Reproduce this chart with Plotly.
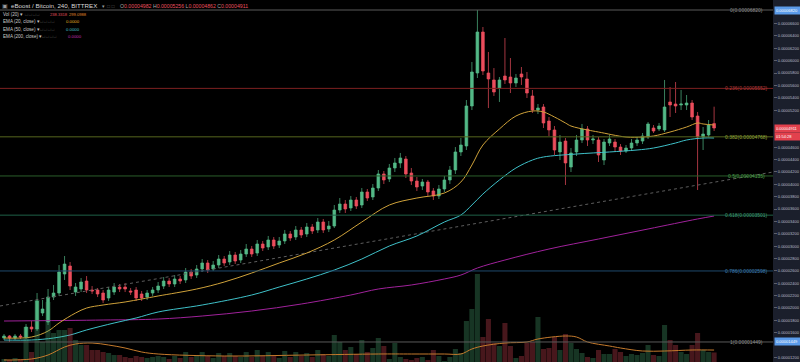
import plotly.graph_objects as go

SAT = 1e-8  # prices below are in satoshi (1e-8 BTC)

open_sat = [1513, 1546, 1513, 1546, 1529, 1691, 1659, 1918, 1772, 2176,
            2241, 2549, 2678, 2257, 2306, 2435, 2290, 2290, 2241, 2160,
            2257, 2338, 2338, 2274, 2290, 2225, 2176, 2241, 2290, 2354,
            2435, 2387, 2468, 2452, 2581, 2532, 2630, 2727, 2630, 2694,
            2791, 2743, 2856, 2775, 2872, 2953, 2888, 3034, 2986, 3099,
            3018, 3083, 3196, 3147, 3261, 3196, 3309, 3261, 3390, 3277,
            3325, 3584, 3681, 3617, 3746, 3665, 3875, 3795, 3940, 4167,
            4086, 4264, 4345, 4409, 4183, 4053, 3972, 4037, 3892, 3811,
            3924, 4070, 4231, 4523, 4620, 5267, 5801, 6464, 5801, 5688,
            5558, 5752, 5736, 5639, 5785, 5704, 5429, 5202, 5251, 5024,
            4879, 4523, 4700, 4280, 4523, 4717, 4895, 4717, 4717, 4393,
            4668, 4684, 4603, 4539, 4587, 4668, 4700, 4765, 4911, 4895,
            4879, 5332, 5299, 5283, 5283, 5315, 5105, 4765, 4798, 4982]
close_sat = [1546, 1513, 1546, 1529, 1691, 1659, 2112, 1982, 2176, 2241,
             2581, 2710, 2354, 2338, 2419, 2290, 2274, 2225, 2128, 2290,
             2338, 2306, 2306, 2257, 2160, 2160, 2241, 2290, 2354, 2435,
             2387, 2468, 2435, 2581, 2516, 2630, 2727, 2613, 2694, 2791,
             2727, 2856, 2759, 2872, 2953, 2872, 3034, 2969, 3099, 3002,
             3083, 3196, 3131, 3261, 3180, 3309, 3244, 3390, 3261, 3325,
             3584, 3681, 3600, 3746, 3649, 3875, 3778, 3940, 4167, 4070,
             4264, 4345, 4426, 4167, 4053, 3956, 4037, 3875, 3811, 3924,
             4070, 4231, 4523, 4636, 5267, 5817, 6464, 5833, 5704, 5493,
             5688, 5688, 5639, 5720, 5736, 5477, 5202, 5234, 4992, 4879,
             4555, 4684, 4345, 4507, 4717, 4895, 4717, 4733, 4474, 4684,
             4733, 4603, 4539, 4587, 4668, 4717, 4781, 4976, 4862, 4943,
             5251, 5283, 5267, 5299, 5315, 5089, 4765, 4814, 4959, 4911]
high_sat = [1578, 1562, 1578, 1578, 1740, 1788, 2241, 2128, 2306, 2371,
            2694, 2840, 2743, 2403, 2484, 2516, 2354, 2322, 2290, 2338,
            2403, 2387, 2403, 2322, 2338, 2274, 2290, 2338, 2419, 2500,
            2484, 2532, 2516, 2646, 2630, 2694, 2791, 2775, 2759, 2856,
            2840, 2921, 2905, 2937, 3034, 3002, 3099, 3083, 3164, 3147,
            3147, 3261, 3244, 3325, 3309, 3374, 3358, 3455, 3439, 3406,
            3665, 3778, 3746, 3811, 3795, 3940, 3924, 4005, 4231, 4215,
            4329, 4426, 4507, 4458, 4264, 4118, 4086, 4070, 3940, 3989,
            4134, 4296, 4603, 4749, 5364, 5979, 6820, 6545, 6141, 5881,
            5736, 6367, 6043, 5785, 5898, 5817, 5526, 5299, 5299, 5089,
            4943, 4798, 4749, 4587, 4798, 4976, 4943, 4798, 4765, 4733,
            4798, 4733, 4652, 4636, 4733, 4765, 4830, 5008, 4959, 4992,
            5688, 5574, 5655, 5526, 5445, 5364, 5170, 4927, 5040, 5256]
low_sat = [1481, 1449, 1481, 1497, 1497, 1610, 1626, 1869, 1723, 2128,
           2193, 2452, 2290, 2193, 2257, 2241, 2225, 2176, 2079, 2112,
           2209, 2257, 2257, 2209, 2112, 2112, 2128, 2193, 2241, 2306,
           2338, 2338, 2387, 2403, 2468, 2484, 2581, 2565, 2597, 2646,
           2678, 2694, 2710, 2727, 2824, 2824, 2840, 2921, 2937, 2953,
           2969, 3034, 3083, 3099, 3131, 3147, 3196, 3212, 3212, 3228,
           3293, 3536, 3536, 3568, 3600, 3617, 3730, 3746, 3892, 4005,
           4037, 4199, 4264, 4102, 3989, 3892, 3908, 3811, 3746, 3762,
           3875, 4005, 4167, 4458, 4555, 5202, 5720, 5768, 5234, 5429,
           5332, 5623, 5477, 5574, 5607, 5396, 5154, 5137, 4911, 4781,
           4474, 4393, 3989, 4199, 4458, 4668, 4620, 4652, 4361, 4312,
           4620, 4523, 4474, 4507, 4555, 4620, 4652, 4733, 4830, 4862,
           4846, 5089, 5154, 5202, 5202, 5040, 3908, 4555, 4765, 4862]
volume = [75, 50, 100, 75, 875, 250, 1550, 500, 1500, 725,
          800, 800, 850, 550, 425, 425, 300, 300, 250, 225,
          175, 175, 125, 100, 150, 125, 100, 125, 150, 125,
          75, 150, 100, 250, 125, 175, 250, 150, 100, 225,
          150, 225, 150, 125, 250, 125, 300, 150, 250, 175,
          100, 275, 125, 250, 150, 225, 125, 300, 200, 150,
          675, 500, 300, 375, 200, 550, 250, 350, 600, 400,
          75, 475, 125, 75, 50, 100, 125, 50, 300, 150,
          25, 125, 325, 225, 1025, 1325, 2200, 625, 1075, 475,
          400, 975, 400, 100, 150, 475, 500, 1125, 325, 350,
          625, 300, 700, 475, 325, 225, 125, 100, 300, 200,
          200, 325, 250, 150, 200, 175, 225, 425, 175, 150,
          925, 550, 425, 250, 200, 425, 725, 300, 250, 238.3318]

volma_idx = [0, 5, 8, 11, 13, 16, 19, 22, 25, 28, 40, 55, 68, 74, 80, 83, 85, 87,
             91, 95, 97, 102, 104, 106, 110, 112, 116, 120, 125, 129]
volma = [50, 75, 175, 375, 450, 475, 425, 350, 250, 200, 150, 175, 200, 200, 200, 200,
         325, 400, 475, 500, 575, 650, 625, 500, 400, 350, 275, 275, 300, 299.0988]

ema20_idx = [0, 5, 8, 10, 13, 15, 18, 22, 25, 28, 35, 40, 45, 50, 55, 60, 65, 70, 75, 80,
             83, 85, 87, 90, 93, 96, 98, 100, 102, 103, 106, 108, 113, 116, 118, 121, 124,
             126, 127, 129]
ema20_sat = [1513, 1529, 1626, 1756, 1918, 1998, 2047, 2096, 2144, 2193, 2306, 2419, 2565,
             2727, 2888, 3099, 3390, 3665, 3778, 3859, 4037, 4312, 4636, 4895, 5105, 5186,
             5170, 5089, 4992, 4943, 4879, 4846, 4765, 4765, 4781, 4846, 4927, 4992, 4976, 4959]

ema50_idx = [0, 5, 9, 12, 15, 20, 24, 28, 36, 45, 50, 55, 60, 65, 70, 75, 80, 83, 85, 87,
             90, 93, 96, 98, 104, 110, 115, 118, 122, 124, 127, 129]
ema50_sat = [1481, 1481, 1513, 1562, 1643, 1756, 1837, 1934, 2047, 2209, 2338, 2468, 2613,
             2791, 3002, 3164, 3390, 3503, 3665, 3843, 4070, 4264, 4393, 4442, 4490, 4523,
             4555, 4587, 4668, 4717, 4749, 4749]

ema200_idx = [0, 18, 28, 36, 45, 54, 63, 68, 74, 80, 83, 86, 91, 99, 108, 117, 126, 129]
ema200_sat = [1788, 1804, 1820, 1869, 1950, 2063, 2209, 2306, 2371, 2468, 2532, 2646, 2775,
              2953, 3115, 3277, 3439, 3487]

trend_idx = [-0.73, 139.7]
trend_sat = [2031, 4199]

fib_ratio = [0, 0.236, 0.382, 0.5, 0.618, 0.786, 1]
fib_sat = [6820, 5552, 4768, 4135, 3501, 2598, 1449]
fib_line_col = ['#5a5a5a', '#7e2020', '#56661e', '#2b5f2b', '#1f6148', '#1f4a6c', '#5a5a5a']
fib_text_col = ['#8c8c8c', '#b03838', '#92a63a', '#4ca04c', '#3d9c74', '#3c7cb0', '#8c8c8c']

# price-axis labels visible in the reference (those under the coloured tags are hidden there)
tick_sat = [1200, 1600, 1800, 2000, 2200, 2400, 2600, 2800, 3000, 3200, 3400, 3600,
            3800, 4000, 4200, 4400, 4600, 5200, 5400, 5600, 5800, 6000, 6200,
            6400, 6600, 7000]

bar_index = list(range(len(close_sat)))
o = [v * SAT for v in open_sat]
h = [v * SAT for v in high_sat]
l = [v * SAT for v in low_sat]
c = [v * SAT for v in close_sat]

UP = '#53b987'
DN = '#eb4d5c'
vol_col = ['rgba(76,175,120,0.30)' if cc >= oo else 'rgba(235,77,92,0.30)'
           for oo, cc in zip(open_sat, close_sat)]

fig = go.Figure()
fig.add_trace(go.Bar(x=bar_index, y=volume, yaxis='y2', marker=dict(color=vol_col, line=dict(width=0)),
                     hoverinfo='skip'))
fig.add_trace(go.Scatter(x=volma_idx, y=volma, yaxis='y2', mode='lines',
                         line=dict(color='#c47a2c', width=1, shape='spline'), hoverinfo='skip'))
fig.add_trace(go.Scatter(x=trend_idx, y=[v * SAT for v in trend_sat], mode='lines',
                         line=dict(color='#5e5e5e', width=1, dash='dot'), hoverinfo='skip'))
fig.add_trace(go.Scatter(x=ema200_idx, y=[v * SAT for v in ema200_sat], mode='lines',
                         line=dict(color='#a0229b', width=1, shape='spline'), hoverinfo='skip'))
fig.add_trace(go.Scatter(x=ema50_idx, y=[v * SAT for v in ema50_sat], mode='lines',
                         line=dict(color='#3fc1c9', width=1, shape='spline'), hoverinfo='skip'))
fig.add_trace(go.Scatter(x=ema20_idx, y=[v * SAT for v in ema20_sat], mode='lines',
                         line=dict(color='#cfa23a', width=1, shape='spline'), hoverinfo='skip'))
fig.add_trace(go.Candlestick(x=bar_index, open=o, high=h, low=l, close=c,
                             increasing=dict(line=dict(color=UP, width=0.7), fillcolor=UP),
                             decreasing=dict(line=dict(color=DN, width=0.7), fillcolor=DN),
                             whiskerwidth=0, hoverinfo='skip'))

shapes = []
annotations = []
FONT = 'Liberation Sans, Arial, sans-serif'
for r, p, lc, tc in zip(fib_ratio, fib_sat, fib_line_col, fib_text_col):
    shapes.append(dict(type='line', xref='paper', x0=0, x1=1, yref='y', y0=p * SAT, y1=p * SAT,
                       line=dict(color=lc, width=1), layer='above'))
    annotations.append(dict(xref='paper', x=746 / 773, xanchor='center', yref='y', y=p * SAT,
                            yanchor='middle', text=f"{r}({p * SAT:.8f})", showarrow=False,
                            font=dict(family=FONT, size=5, color=tc)))

# price-axis highlight labels for fib 0 and 1
for p in (fib_sat[0], fib_sat[-1]):
    annotations.append(dict(xref='paper', x=1, xanchor='left', xshift=1, yref='y', y=p * SAT,
                            yanchor='middle', text=f"{p * SAT:.8f}", showarrow=False,
                            bgcolor='#5b9bea', width=24, align='left', borderpad=1,
                            font=dict(family=FONT, size=4, color='#ffffff')))
# last price and countdown
annotations.append(dict(xref='paper', x=1, xanchor='left', xshift=1, yref='y', y=close_sat[-1] * SAT,
                        yanchor='middle', text=f"{close_sat[-1] * SAT:.8f}", showarrow=False,
                        bgcolor='#e2414d', width=24, align='left', borderpad=1,
                        font=dict(family=FONT, size=4, color='#ffffff')))
annotations.append(dict(xref='paper', x=1, xanchor='left', xshift=1, yref='y', y=close_sat[-1] * SAT,
                        yanchor='middle', yshift=-8, text="01:54:28", showarrow=False,
                        bgcolor='#e2414d', width=24, align='left', borderpad=1,
                        font=dict(family=FONT, size=4, color='#ffffff')))


def txt(xpx, ypx, text, size, color):
    annotations.append(dict(xref='paper', x=xpx / 773, xanchor='left', yref='paper',
                            y=1 - ypx / 362, yanchor='middle', text=text, showarrow=False,
                            font=dict(family=FONT, size=size, color=color)))


RED = '#e8505f'
txt(0, 5.8, '▣', 5.5, '#9a9a9a')
txt(9, 5.8, 'eBoost / Bitcoin, 240, BITTREX', 6.2, '#d9d9d9')
txt(100, 5.8, '▾', 5, '#9a9a9a')
txt(105, 5.8, '□ □', 5, '#5a5a5a')
txt(118, 5.8, f"O<span style='color:{RED}'>0.00004982</span> H<span style='color:{RED}'>0.00005256</span>"
              f" L<span style='color:{RED}'>0.00004862</span> C<span style='color:{RED}'>0.00004911</span>",
    5.2, '#aaaaaa')
rows = [(14.3, 'Vol (20) ▾', 23, None), (21.8, 'EMA (20, close) ▾', 38, '#e6b422'),
        (29.3, 'EMA (50, close) ▾', 38, '#45c4cc'), (36.7, 'EMA (200, close) ▾', 40, '#c030b0')]
for ypx, label, bx, vc in rows:
    txt(0.5, ypx, label, 4.6, '#c8c8c8')
    txt(bx, ypx, '□ □ □ □', 4.4, '#5a5a5a')
    if vc is None:
        txt(48, ypx, '238.3318', 4.1, '#e0505a')
        txt(67, ypx, '299.0988', 4.1, '#e08a2a')
    else:
        txt(bx + 26, ypx, '0.0000', 4.3, vc)

fig.update_layout(
    width=800, height=362, margin=dict(l=0, r=27, t=0, b=0),
    paper_bgcolor='#1b1f2c', plot_bgcolor='#000000', showlegend=False,
    bargap=0.08, shapes=shapes, annotations=annotations,
    xaxis=dict(range=[-0.73, 139.7], visible=False, rangeslider=dict(visible=False), fixedrange=True),
    yaxis=dict(side='right', range=[1125 * SAT, 6982 * SAT], tickvals=[t * SAT for t in tick_sat],
               tickformat='.8f', tickfont=dict(family=FONT, size=4, color='#b8bcc8'),
               ticks='outside', ticklen=3, tickcolor='#5d606b', showgrid=False, zeroline=False,
               showline=False, fixedrange=True),
    yaxis2=dict(overlaying='y', range=[0, 9050], visible=False, fixedrange=True),
)
fig.write_html("out.html", config={'displayModeBar': False},
               post_script="document.body.style.margin='0';")
